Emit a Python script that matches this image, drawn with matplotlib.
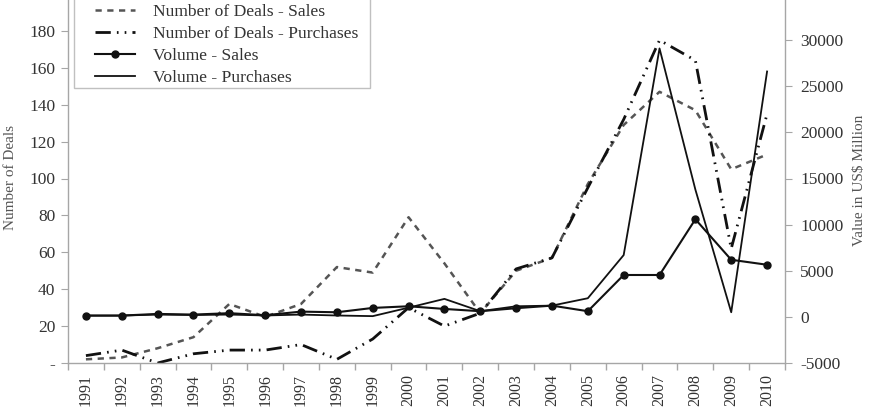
import matplotlib
matplotlib.use("Agg")
import matplotlib.pyplot as plt
from matplotlib.ticker import FixedLocator, FuncFormatter
from matplotlib.patches import Rectangle

years = [str(y) for y in range(1991, 2011)]
deals_sales = [2, 3, 8, 14, 32, 25, 32, 52, 49, 79, 54, 27, 50, 57, 97, 129, 147, 137, 105, 113]
deals_purch = [4, 7, 0, 5, 7, 7, 10, 2, 13, 30, 20, 27, 51, 57, 95, 132, 175, 164, 62, 135]
vol_sales = [140, 140, 320, 250, 400, 180, 570, 500, 970, 1150, 860, 615, 940, 1220, 615, 4540, 4540, 10580, 6190, 5650]
vol_purch = [140, 140, 250, 200, 250, 150, 250, 150, 80, 1000, 1950, 615, 1150, 1220, 2020, 6700, 29100, 13800, 500, 26600]

labels = ["Number of Deals - Sales", "Number of Deals - Purchases",
          "Volume - Sales", "Volume - Purchases"]

plt.rcParams['font.family'] = ['Liberation Serif', 'DejaVu Serif']

W, H = 873, 407
fig = plt.figure(figsize=(W / 100, H / 100), dpi=100)
left, right, bottom, top = 68, 785, 363, -6
ax = fig.add_axes([left / W, 1 - bottom / H, (right - left) / W, (bottom - top) / H])
ax2 = ax.twinx()

x = list(range(len(years)))
gray = '#a6a6a6'
txt = '#333333'

l1, = ax.plot(x, deals_sales, color='#555555', lw=1.8, linestyle=(0, (2.5, 2.2)))
l2, = ax.plot(x, deals_purch, color='#111111', lw=2.0,
              linestyle=(0, (5.5, 2.2, 0.6, 2.2, 0.6, 2.2)))
l3, = ax2.plot(x, vol_sales, color='#111111', lw=1.5, marker='o', markersize=5)
l4, = ax2.plot(x, vol_purch, color='#111111', lw=1.3)

ax.set_xlim(-0.5, len(years) - 0.5)
ax.set_ylim(0, 200)
ax2.set_ylim(-5000, 35000)

ax.set_yticks(range(0, 181, 20))
ax.yaxis.set_major_formatter(FuncFormatter(lambda v, p: '-' if v == 0 else f'{int(v)}'))
ax2.set_yticks(range(-5000, 30001, 5000))
ax2.yaxis.set_major_formatter(FuncFormatter(lambda v, p: f'{int(v)}'))

ax.set_xticks(x)
ax.set_xticklabels(years, rotation=90, fontsize=11.5, color=txt)
ax.xaxis.set_minor_locator(FixedLocator([i - 0.5 for i in range(len(years) + 1)]))
ax.tick_params(axis='x', which='major', length=0, pad=8)
ax.tick_params(axis='x', which='minor', length=5, color=gray, width=1)
ax.tick_params(axis='y', length=5, color=gray, labelsize=12.5, labelcolor=txt, pad=4)
ax2.tick_params(axis='y', length=5, color=gray, labelsize=12.5, labelcolor=txt, pad=6)

for a in (ax, ax2):
    a.spines['top'].set_visible(False)
    for s in ('left', 'right', 'bottom'):
        a.spines[s].set_color(gray)
        a.spines[s].set_linewidth(1)
ax.spines['right'].set_visible(False)
ax2.spines['left'].set_visible(False)
ax2.spines['bottom'].set_visible(False)

fig.text(11 / W, 1 - 178 / H, "Number of Deals", rotation=90, ha='center', va='center',
         fontsize=11, color='#555555')
fig.text(860 / W, 1 - 180 / H, "Value in US$ Million", rotation=90, ha='center', va='center',
         fontsize=11, color='#555555')

frame = Rectangle((74 / W, 1 - 88 / H), (370 - 74) / W, 93 / H, transform=fig.transFigure,
                  facecolor='white', edgecolor='#c0c0c0', linewidth=1, zorder=5)
fig.add_artist(frame)

leg = fig.legend([l1, l2, l3, l4], labels, loc='upper left',
                 bbox_to_anchor=(95 / W, 1 - 4 / H), fontsize=12.6, frameon=False,
                 handlelength=2.3, handletextpad=1.0, labelspacing=0.33, borderpad=0,
                 borderaxespad=0)
leg.set_zorder(6)
for t in leg.get_texts():
    t.set_color(txt)

fig.savefig("out.png", dpi=100)
